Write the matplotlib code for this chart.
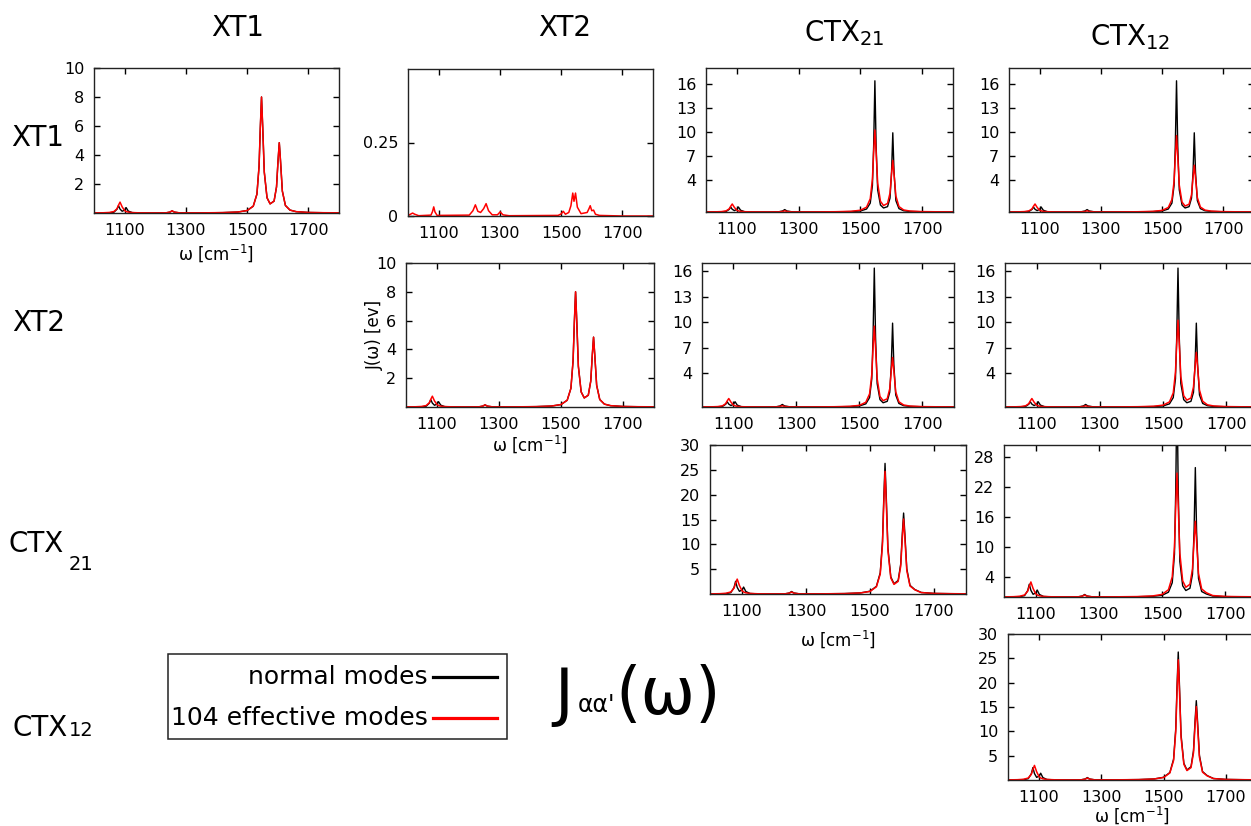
import matplotlib
matplotlib.use('Agg')
import matplotlib.pyplot as plt
from matplotlib.patches import Rectangle
from matplotlib.lines import Line2D

W, H = 1251, 826

# frequency grid [cm^-1] shared by most curves
omega = [1000, 1030, 1050, 1065, 1075, 1080, 1085, 1092, 1100, 1105, 1112, 1125,
         1150, 1200, 1235, 1248, 1255, 1262, 1280, 1350, 1420, 1470, 1500, 1520,
         1532, 1539, 1543, 1547, 1551, 1556, 1565, 1575, 1588, 1596, 1601, 1605,
         1609, 1615, 1625, 1640, 1660, 1700, 1750, 1800]

# XT1/XT1 and XT2/XT2
xt_diag_normal = [0.003, 0.007, 0.016, 0.055, 0.26, 0.51, 0.27, 0.12, 0.20, 0.37, 0.13, 0.027,
                  0.007, 0.004, 0.012, 0.063, 0.15, 0.063, 0.008, 0.01, 0.027, 0.068, 0.17, 0.47,
                  1.30, 3.23, 5.85, 8.0, 5.87, 2.83, 1.05, 0.63, 0.82, 1.80, 3.63, 4.85,
                  3.60, 1.51, 0.52, 0.20, 0.093, 0.037, 0.02, 0.013]
xt_diag_eff = [0.007, 0.016, 0.037, 0.10, 0.29, 0.54, 0.75, 0.42, 0.17, 0.10, 0.061, 0.029,
               0.011, 0.005, 0.012, 0.063, 0.15, 0.063, 0.008, 0.01, 0.027, 0.068, 0.17, 0.47,
               1.30, 3.23, 5.85, 8.0, 5.87, 2.83, 1.05, 0.63, 0.82, 1.80, 3.63, 4.85,
               3.60, 1.51, 0.52, 0.20, 0.093, 0.037, 0.02, 0.013]

# XT1/XT2 cross term (effective modes only)
omega_xt12 = [1000, 1008, 1015, 1022, 1035, 1075, 1080, 1084, 1088, 1095, 1200, 1212,
              1220, 1228, 1237, 1247, 1255, 1263, 1275, 1292, 1301, 1310, 1330, 1490,
              1500, 1507, 1514, 1525, 1532, 1538, 1542, 1547, 1553, 1565, 1585, 1591,
              1595, 1600, 1606, 1612, 1625, 1700, 1800]
xt12_eff = [0.002, 0.006, 0.010, 0.006, 0.001, 0.003, 0.015, 0.031, 0.014, 0.002, 0.003, 0.018,
            0.038, 0.016, 0.012, 0.025, 0.042, 0.018, 0.004, 0.004, 0.014, 0.004, 0.001, 0.002,
            0.007, 0.016, 0.006, 0.012, 0.035, 0.078, 0.050, 0.078, 0.030, 0.008, 0.012, 0.025,
            0.035, 0.018, 0.020, 0.006, 0.002, 0.0, 0.0]

# XT/CTX cross terms
ctx_off_normal = [0.004, 0.009, 0.021, 0.069, 0.32, 0.62, 0.34, 0.17, 0.34, 0.62, 0.22, 0.042,
                  0.01, 0.006, 0.025, 0.126, 0.30, 0.126, 0.016, 0.01, 0.021, 0.053, 0.13, 0.37,
                  1.11, 3.32, 8.24, 16.4, 8.25, 2.77, 0.87, 0.50, 0.67, 1.74, 5.04, 9.9,
                  5.02, 1.42, 0.42, 0.16, 0.073, 0.029, 0.014, 0.008]
ctx_off_eff_a = [0.009, 0.021, 0.05, 0.14, 0.39, 0.72, 1.0, 0.57, 0.22, 0.14, 0.081, 0.038,
                 0.015, 0.007, 0.015, 0.065, 0.15, 0.065, 0.01, 0.015, 0.035, 0.087, 0.22, 0.60,
                 1.66, 4.12, 7.47, 10.25, 7.49, 3.61, 1.34, 0.81, 1.07, 2.37, 4.79, 6.45,
                 4.75, 1.99, 0.68, 0.26, 0.12, 0.048, 0.026, 0.017]
ctx_off_eff_b = [0.009, 0.021, 0.05, 0.14, 0.39, 0.72, 1.0, 0.57, 0.22, 0.14, 0.081, 0.038,
                 0.015, 0.007, 0.015, 0.065, 0.15, 0.065, 0.01, 0.014, 0.032, 0.08, 0.20, 0.56,
                 1.55, 3.83, 6.95, 9.55, 6.97, 3.36, 1.24, 0.75, 0.97, 2.15, 4.34, 5.85,
                 4.30, 1.80, 0.62, 0.24, 0.11, 0.044, 0.024, 0.016]

# CTX21/CTX21, CTX12/CTX12 and CTX21/CTX12
ctx_diag_normal = [0.013, 0.03, 0.078, 0.27, 1.29, 2.55, 1.33, 0.54, 0.80, 1.40, 0.50, 0.107,
                   0.028, 0.014, 0.042, 0.21, 0.5, 0.21, 0.027, 0.042, 0.088, 0.22, 0.56, 1.54,
                   4.28, 10.6, 19.2, 26.3, 19.3, 9.3, 3.44, 2.07, 2.73, 6.05, 12.2, 16.3,
                   12.1, 5.08, 1.74, 0.9, 0.31, 0.12, 0.07, 0.04]
ctx_diag_eff = [0.026, 0.062, 0.149, 0.41, 1.17, 2.16, 3.0, 1.70, 0.66, 0.41, 0.24, 0.114,
                0.045, 0.019, 0.041, 0.17, 0.4, 0.17, 0.027, 0.038, 0.083, 0.21, 0.52, 1.45,
                4.02, 9.97, 18.07, 24.7, 18.1, 8.75, 3.23, 1.94, 2.54, 5.6, 11.3, 15.1,
                11.2, 4.7, 1.61, 0.85, 0.29, 0.11, 0.065, 0.04]
ctx21_12_normal = [0.013, 0.03, 0.078, 0.27, 1.29, 2.55, 1.33, 0.54, 0.80, 1.40, 0.50, 0.107,
                   0.028, 0.014, 0.042, 0.21, 0.5, 0.21, 0.027, 0.025, 0.054, 0.14, 0.34, 0.96,
                   2.85, 8.5, 21.1, 42.0, 21.1, 7.1, 2.23, 1.29, 1.74, 4.53, 13.1, 25.8,
                   13.1, 3.71, 1.09, 0.6, 0.19, 0.076, 0.038, 0.024]

x_ticks = [1100, 1300, 1500, 1700]
col_titles = ['XT1', 'XT2', r'CTX$_{21}$', r'CTX$_{12}$']


def px_box(l, t, r, b):
    return [l / W, 1 - b / H, (r - l) / W, (b - t) / H]


fig = plt.figure(figsize=(W / 100, H / 100), dpi=100)

# (box in pixels, x, normal, x, effective, ylim, yticks, ytick labels, xlabel pad or None)
panels = [
    ((94, 68, 339, 213), omega, xt_diag_normal, omega, xt_diag_eff, (0, 10), [2, 4, 6, 8, 10], None, 3),
    ((408, 69, 653, 216), None, None, omega_xt12, xt12_eff, (0, 0.5), [0, 0.25], ['0', '0.25'], None),
    ((406, 263, 654, 407), omega, xt_diag_normal, omega, xt_diag_eff, (0, 10), [2, 4, 6, 8, 10], None, 1),
    ((706, 68, 953, 212), omega, ctx_off_normal, omega, ctx_off_eff_a, (0, 18), [4, 7, 10, 13, 16], None, None),
    ((702, 263, 954, 407), omega, ctx_off_normal, omega, ctx_off_eff_b, (0, 17), [4, 7, 10, 13, 16], None, None),
    ((710, 445, 966, 594), omega, ctx_diag_normal, omega, ctx_diag_eff, (0, 30), [5, 10, 15, 20, 25, 30], None, 7),
    ((1009, 68, 1254, 212), omega, ctx_off_normal, omega, ctx_off_eff_b, (0, 18), [4, 7, 10, 13, 16], None, None),
    ((1005, 263, 1258, 407), omega, ctx_off_normal, omega, ctx_off_eff_a, (0, 17), [4, 7, 10, 13, 16], None, None),
    ((1004, 445, 1257, 597), omega, ctx21_12_normal, omega, ctx_diag_eff, (0, 30.3), [4, 10, 16, 22, 28], None, None),
    ((1008, 634, 1257, 780), omega, ctx_diag_normal, omega, ctx_diag_eff, (0, 30), [5, 10, 15, 20, 25, 30], None, 0),
]

for box, xb, yb, xr, yr, ylim, yt, ytl, xpad in panels:
    ax = fig.add_axes(px_box(*box))
    if yb is not None:
        ax.plot(xb, yb, color='black', lw=1.0)
    ax.plot(xr, yr, color='red', lw=1.1)
    ax.set_xlim(1000, 1800)
    ax.set_ylim(*ylim)
    ax.set_xticks(x_ticks)
    ax.set_yticks(yt)
    if ytl is not None:
        ax.set_yticklabels(ytl)
    ax.tick_params(direction='in', length=4.5, width=1.0, top=True, right=True,
                   labelsize=11.5, pad=7)
    for sp in ax.spines.values():
        sp.set_linewidth(1.0)
        sp.set_color('#222222')
    if xpad is not None:
        ax.set_xlabel(r'$\mathregular{\omega\ [cm^{-1}]}$', fontsize=12, labelpad=xpad)

# y label on the XT2/XT2 panel
fig.text(375 / W, 1 - 335 / H, 'J(ω) [ev]', rotation=90, fontsize=12,
         ha='center', va='center')

# column titles
fig.text(238 / W, 1 - 28 / H, col_titles[0], fontsize=20, ha='center', va='center')
fig.text(565 / W, 1 - 28 / H, col_titles[1], fontsize=20, ha='center', va='center')
fig.text(844 / W, 1 - 33 / H, col_titles[2], fontsize=20, ha='center', va='center')
fig.text(1130 / W, 1 - 37 / H, col_titles[3], fontsize=20, ha='center', va='center')

# row labels
fig.text(38 / W, 1 - 138 / H, 'XT1', fontsize=20, ha='center', va='center')
fig.text(39 / W, 1 - 323 / H, 'XT2', fontsize=20, ha='center', va='center')
fig.text(9 / W, 1 - 552 / H, 'CTX', fontsize=20, ha='left', va='baseline')
fig.text(69 / W, 1 - 570 / H, '21', fontsize=14, ha='left', va='baseline')
fig.text(12 / W, 1 - 736 / H, 'CTX', fontsize=20, ha='left', va='baseline')
fig.text(69 / W, 1 - 736 / H, '12', fontsize=14, ha='left', va='baseline')

# legend box
fig.patches.append(Rectangle((168 / W, 1 - 739 / H), 339 / W, 85 / H,
                             transform=fig.transFigure, fill=False,
                             edgecolor='#222222', lw=1.1))
fig.text(428 / W, 1 - 677 / H, 'normal modes', fontsize=18, ha='right', va='center')
fig.text(428 / W, 1 - 718 / H, '104 effective modes', fontsize=18, ha='right', va='center')
fig.lines.append(Line2D([433 / W, 497 / W], [1 - 677 / H, 1 - 677 / H],
                        transform=fig.transFigure, color='black', lw=2.3))
fig.lines.append(Line2D([433 / W, 497 / W], [1 - 718 / H, 1 - 718 / H],
                        transform=fig.transFigure, color='red', lw=2.3))

# big label
fig.text(554 / W, 1 - 714 / H, 'J', fontsize=46, ha='left', va='baseline')
fig.text(578 / W, 1 - 712 / H, "αα'", fontsize=17, ha='left', va='baseline')
fig.text(615 / W, 1 - 714 / H, '(ω)', fontsize=47, ha='left', va='baseline')

fig.savefig('out.png', dpi=100, facecolor='white')
